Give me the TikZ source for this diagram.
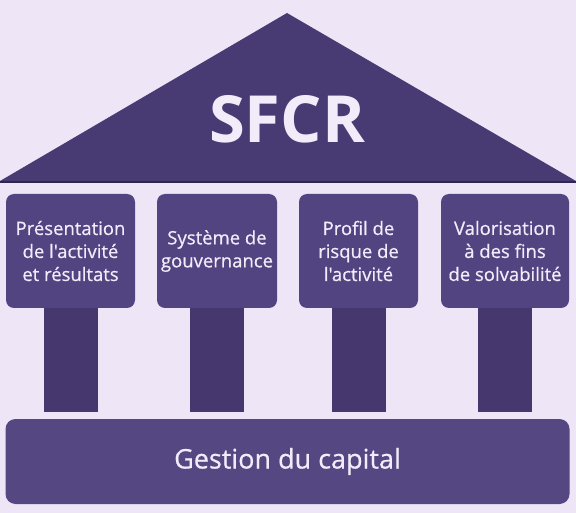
\documentclass[tikz,border=0pt]{standalone}
\usepackage{fontspec}
\setmainfont{Open Sans}
\newfontfamily\medfont{Open Sans}[FakeBold=0.6]
\usetikzlibrary{positioning}
\definecolor{bgcol}{HTML}{EEE6F7}
\definecolor{roofcol}{HTML}{483A72}
\definecolor{capcol}{HTML}{524481}
\definecolor{shaftcol}{HTML}{46386F}
\definecolor{basecol}{HTML}{544782}
\definecolor{txtcol}{HTML}{F2EBFA}
\definecolor{linecol}{HTML}{2F2550}

\begin{document}
\begin{tikzpicture}[
  x=1pt, y=-1pt,
  capbox/.style={fill=capcol, rounded corners=8pt, minimum height=114pt, align=center,
    text=txtcol, inner sep=2pt, font=\medfont\fontsize{18.5}{23}\selectfont},
  shaft/.style={fill=shaftcol},
  basebox/.style={fill=basecol, rounded corners=10pt, minimum width=564pt, minimum height=85pt,
    text=txtcol, font=\medfont\fontsize{27}{32}\selectfont}
]
\fill[bgcol] (0,0) rectangle (576,513);
\useasboundingbox (0,0) rectangle (576,513);

% roof
\fill[roofcol] (0,181) -- (287,13) -- (576,181) -- cycle;
\draw[linecol, line width=1.6pt] (0,182) -- (576,182);
\node[text=txtcol, font=\fontsize{65}{72}\bfseries] (title) at (287,119) {SFCR};

% pillar tops
\node[capbox, minimum width=129pt] (activite) at (70.5,251)
  {Présentation\\de l'activité\\et résultats};
\node[capbox, minimum width=120pt] (gouvernance) at (217,251)
  {Système de\\gouvernance};
\node[capbox, minimum width=119pt] (risque) at (358.5,251)
  {Profil de\\risque de\\l'activité};
\node[capbox, minimum width=128pt] (valorisation) at (505,251)
  {Valorisation\\à des fins\\de solvabilité};

% foundation
\node[basebox] (capital) at (287.5,461.5) {Gestion du capital};

% shafts
\foreach \p in {activite,gouvernance,risque,valorisation}
  \fill[shaft] ([xshift=-27pt]\p.south) rectangle ([xshift=27pt,yshift=7pt]\p.south |- capital.north);
\end{tikzpicture}
\end{document}
